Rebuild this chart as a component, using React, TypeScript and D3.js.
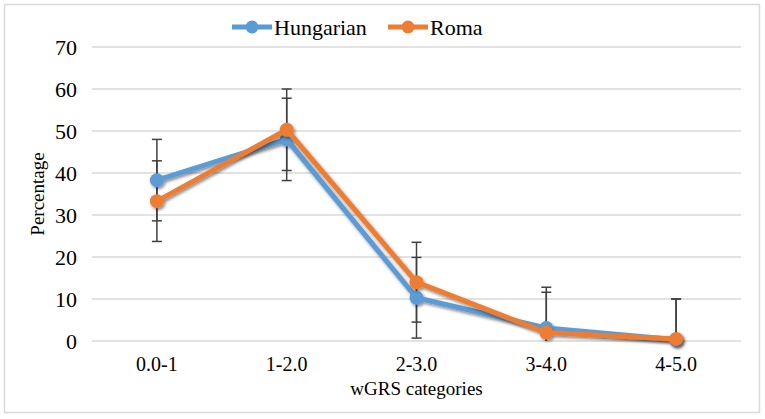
import { useEffect } from 'react';
import * as d3 from 'd3';

const categories = ['0.0-1', '1-2.0', '2-3.0', '3-4.0', '4-5.0'];
const hungarian = [38.3, 48.0, 10.3, 3.1, 0.3];
const hungarianErr = [9.7, 9.8, 9.6, 9.7, 9.7];
const roma = [33.3, 50.3, 14.0, 2.0, 0.5];
const romaErr = [9.6, 9.7, 9.5, 9.6, 9.5];
const yTicks = [0, 10, 20, 30, 40, 50, 60, 70];

const series = [
  { name: 'Hungarian', values: hungarian, errors: hungarianErr, color: '#5B9BD5' },
  { name: 'Roma', values: roma, errors: romaErr, color: '#ED7D31' },
];

const W = 765;
const H = 419;
const margin = { top: 47, right: 24, bottom: 78, left: 92 };
const FONT = '"Liberation Serif", "Times New Roman", serif';

export default function App() {
  useEffect(() => {
    document.body.style.margin = '0';
  }, []);

  const x = d3.scaleBand<string>()
    .domain(categories)
    .range([margin.left, W - margin.right])
    .padding(0);
  const cx = (c: string) => x(c)! + x.bandwidth() / 2;

  const y = d3.scaleLinear()
    .domain([0, 70])
    .range([H - margin.bottom, margin.top]);

  const line = d3.line<number>()
    .x((_, i) => cx(categories[i]))
    .y(d => y(d));

  const [y0, y1] = y.range();
  const clampY = (v: number) => Math.min(y0, Math.max(y1, y(v)));

  // legend layout
  const legend = [
    { s: series[0], x: 232 },
    { s: series[1], x: 388 },
  ];

  return (
    <svg width={W} height={H} style={{ display: 'block' }} fontFamily={FONT}>
      <defs>
        <filter id="shadow" x="-10%" y="-10%" width="120%" height="130%">
          <feDropShadow dx="1.5" dy="2" stdDeviation="1.4" floodColor="#000" floodOpacity="0.45" />
        </filter>
      </defs>
      <rect x={0} y={0} width={W} height={H} fill="#fff" />
      <rect x={4.5} y={4.5} width={755} height={408} fill="none" stroke="#d9d9d9" strokeWidth={1.5} />

      {/* gridlines + y ticks */}
      {yTicks.map(t => (
        <g key={t}>
          <line x1={margin.left} x2={W - margin.right} y1={y(t)} y2={y(t)} stroke="#d9d9d9" strokeWidth={1.5} />
          <text x={77} y={y(t)} dy="0.35em" textAnchor="end" fontSize={22} fill="#000">{t}</text>
        </g>
      ))}

      {/* x tick labels */}
      {categories.map(c => (
        <text key={c} x={cx(c)} y={371} textAnchor="middle" fontSize={20} fill="#000">{c}</text>
      ))}

      {/* axis titles */}
      <text x={(margin.left + W - margin.right) / 2} y={395} textAnchor="middle" fontSize={19} fill="#000">wGRS categories</text>
      <text transform={`translate(44,${(y0 + y1) / 2}) rotate(-90)`} textAnchor="middle" fontSize={19} fill="#000">Percentage</text>

      {/* error bars */}
      {series.map(s => (
        <g key={s.name + '-err'} stroke="#404040" strokeWidth={1.5}>
          {s.values.map((v, i) => {
            const px = cx(categories[i]);
            const top = y(v + s.errors[i]);
            const bot = clampY(v - s.errors[i]);
            const showBot = v - s.errors[i] >= 0;
            return (
              <g key={i}>
                <line x1={px} x2={px} y1={top} y2={bot} />
                <line x1={px - 5} x2={px + 5} y1={top} y2={top} />
                {showBot && <line x1={px - 5} x2={px + 5} y1={bot} y2={bot} />}
              </g>
            );
          })}
        </g>
      ))}

      {/* lines + markers */}
      {series.map(s => (
        <g key={s.name} filter="url(#shadow)">
          <path d={line(s.values)!} fill="none" stroke={s.color} strokeWidth={5} strokeLinejoin="round" />
          {s.values.map((v, i) => (
            <circle key={i} cx={cx(categories[i])} cy={y(v)} r={7} fill={s.color} />
          ))}
        </g>
      ))}

      {/* legend */}
      {legend.map(({ s, x: lx }) => (
        <g key={s.name + '-leg'}>
          <line x1={lx} x2={lx + 40} y1={27} y2={27} stroke={s.color} strokeWidth={5} />
          <circle cx={lx + 20} cy={27} r={6.5} fill={s.color} />
          <text x={lx + 42} y={35} fontSize={22} fill="#000">{s.name}</text>
        </g>
      ))}
    </svg>
  );
}
